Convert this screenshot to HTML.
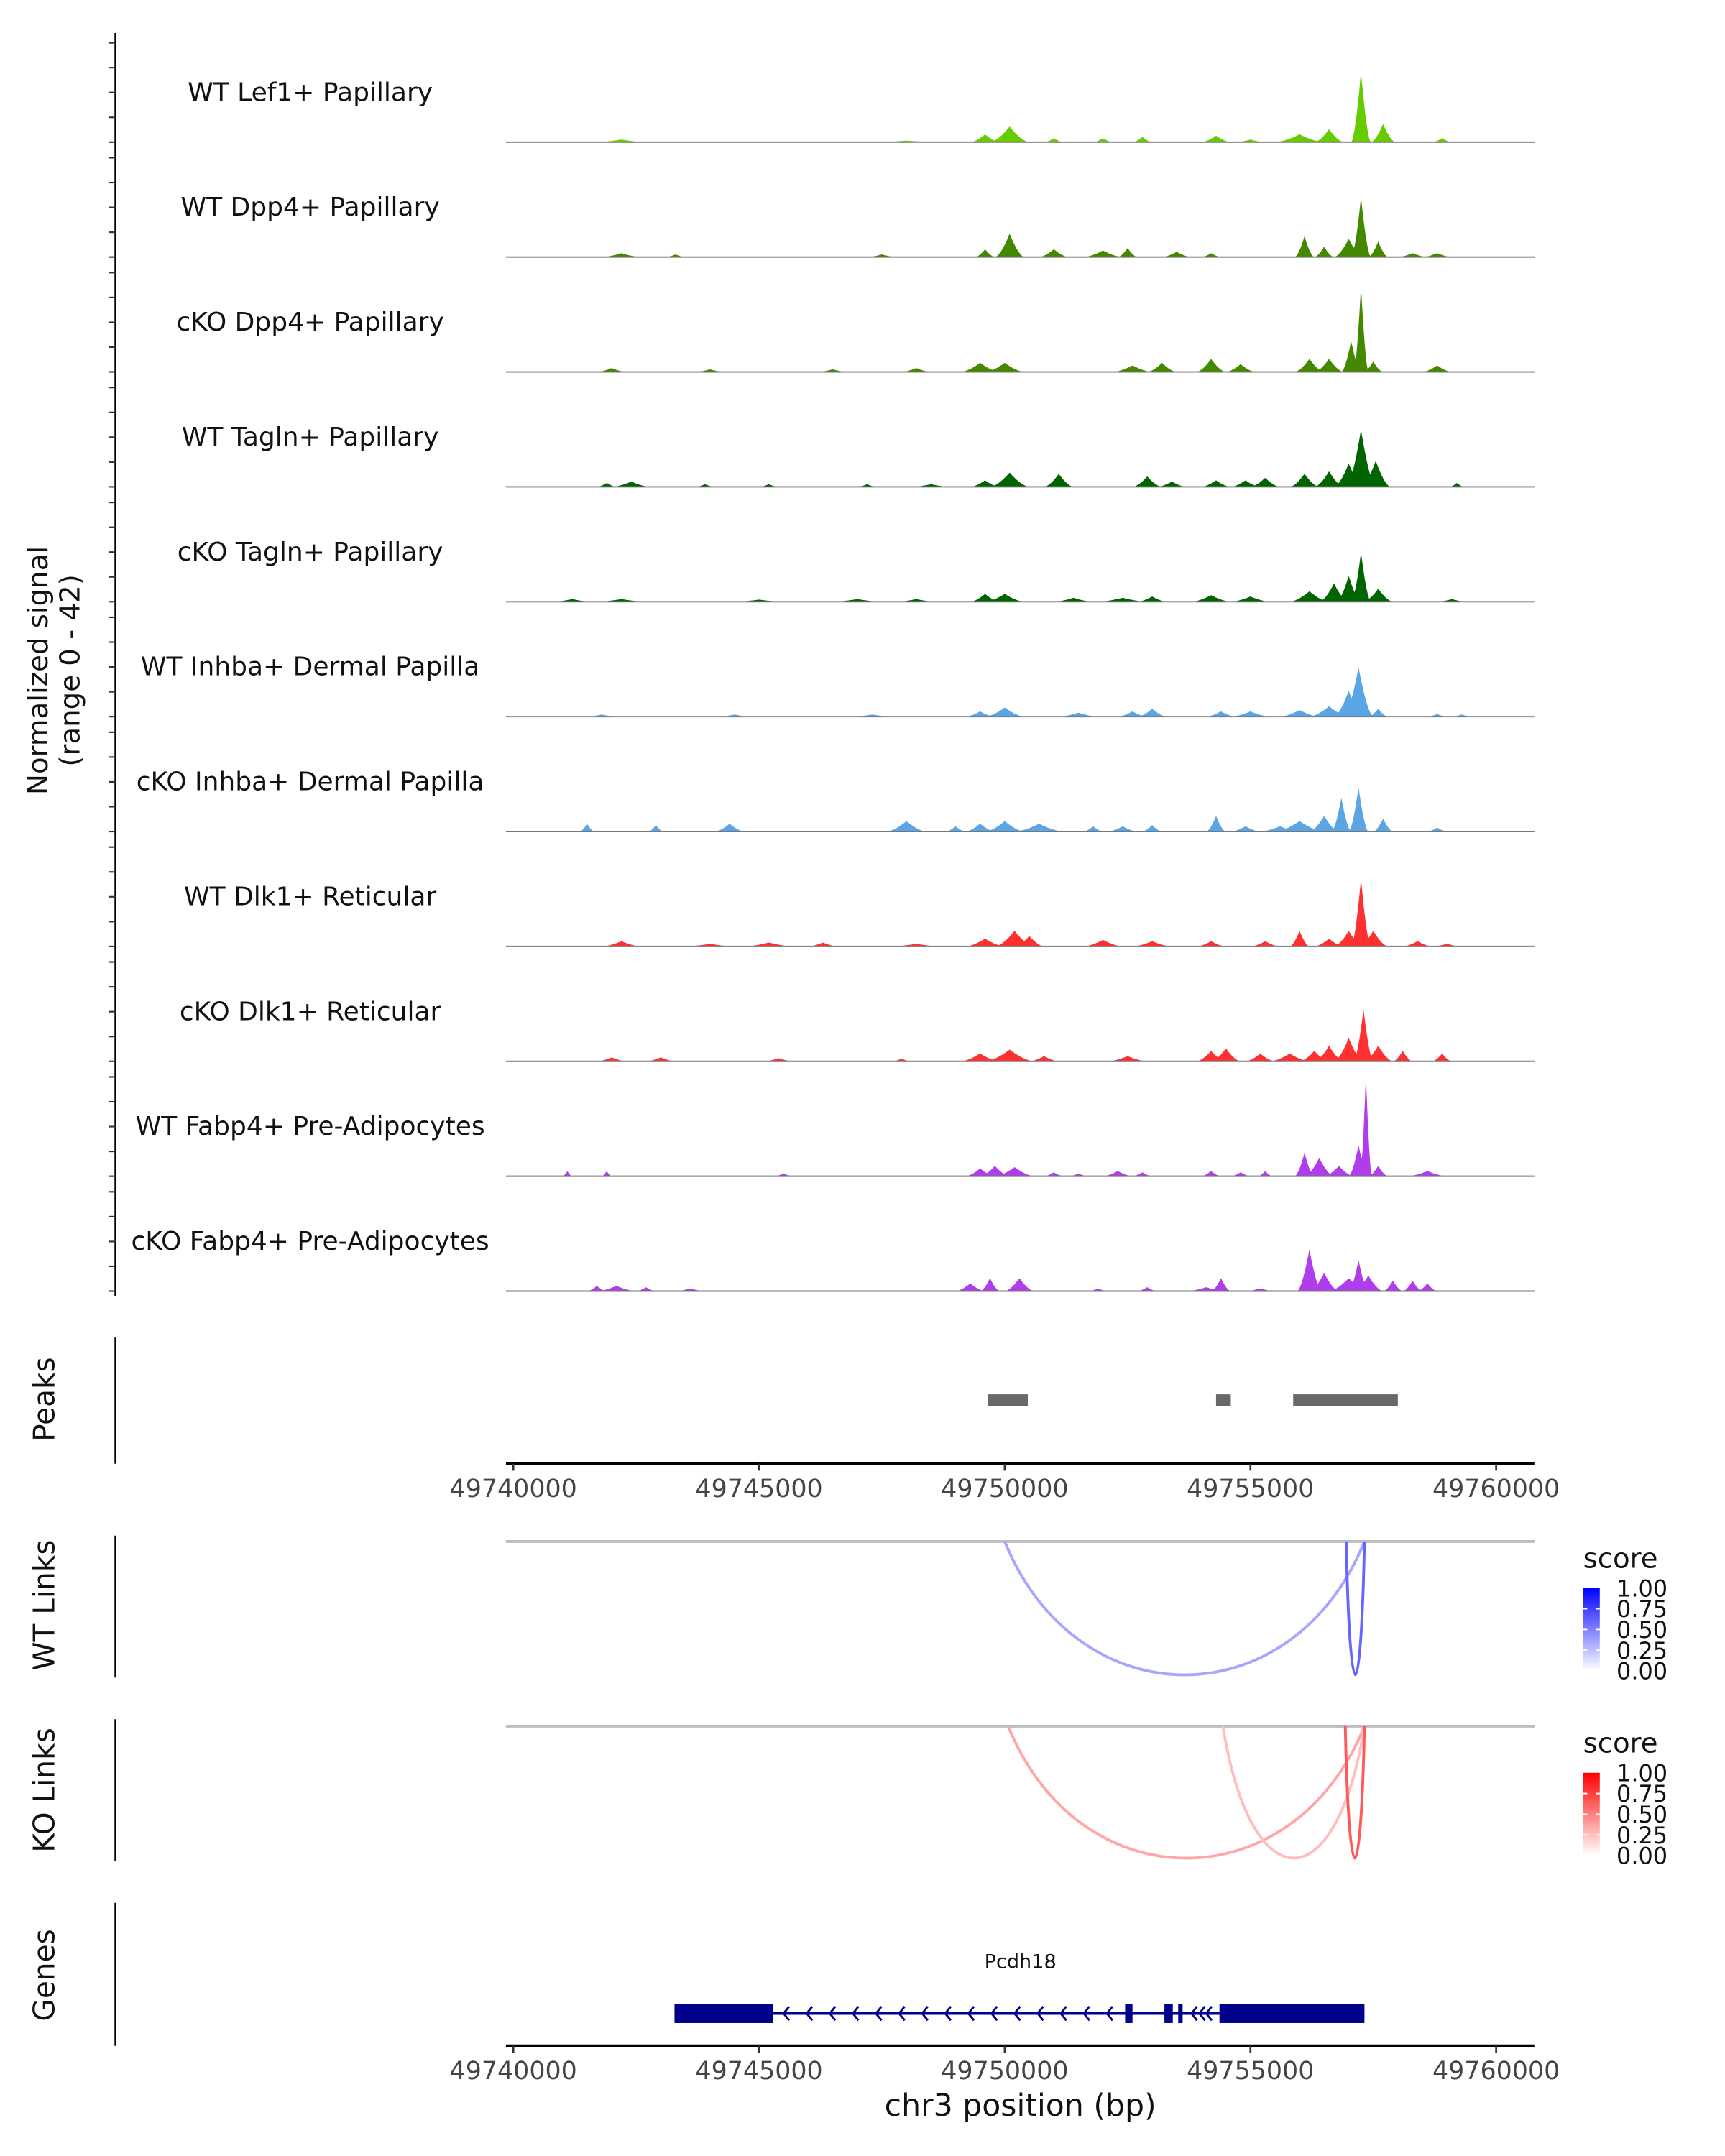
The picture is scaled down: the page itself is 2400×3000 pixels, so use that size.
<!DOCTYPE html>
<html><head><meta charset="utf-8"><style>
html,body{margin:0;padding:0;background:#fff}
svg{display:block}
text{font-family:"DejaVu Sans","Liberation Sans",sans-serif}
</style></head><body>
<svg id="chart" xmlns="http://www.w3.org/2000/svg" width="2400" height="3000" viewBox="0 0 1240 1550">
<rect width="1240" height="1550" fill="#fff"/>
<g id="tracks"></g>
<g id="peaks"></g>
<g id="links"></g>
<g id="genes"></g>
</svg>
<script>
const NS="http://www.w3.org/2000/svg";
// ---- data ----
const regionStart=49740000, regionEnd=49760000;
const xTicks=[49740000,49745000,49750000,49755000,49760000];
const trackNames=["WT Lef1+ Papillary","WT Dpp4+ Papillary","cKO Dpp4+ Papillary","WT Tagln+ Papillary","cKO Tagln+ Papillary","WT Inhba+ Dermal Papilla","cKO Inhba+ Dermal Papilla","WT Dlk1+ Reticular","cKO Dlk1+ Reticular","WT Fabp4+ Pre-Adipocytes","cKO Fabp4+ Pre-Adipocytes"];
const trackColors=["#66cc00","#448800","#448800","#006400","#006400","#5aa5e6","#5aa5e6","#ff3030","#ff3030","#b03cec","#b03cec"];
// peaks: [position kb from start, signal (0-42), width kb]
const sigLef1=[[2.2,1,0.5],[8,0.6,0.6],[9.6,3,0.3],[10.1,6,0.4],[11,1.5,0.2],[12,1.5,0.2],[12.8,2,0.2],[14.3,2.5,0.3],[15,1,0.3],[16,3,0.5],[16.6,5,0.3],[17.25,27,0.2],[17.7,7,0.25],[18.9,1.5,0.2]];
const sigDpp4WT=[[2.2,1.5,0.4],[3.3,1,0.2],[7.5,1,0.3],[9.6,3,0.2],[10.1,9,0.3],[11,3,0.3],[12.0,2.5,0.4],[12.5,3.5,0.2],[13.5,2,0.3],[14.2,1.5,0.2],[16.1,8,0.2],[16.5,4,0.2],[17.0,7,0.3],[17.25,23,0.2],[17.6,6,0.2],[18.3,1.5,0.3],[18.8,1.5,0.3]];
const sigDpp4KO=[[2.0,1.5,0.3],[4.0,1,0.3],[6.5,1,0.3],[8.2,1.5,0.3],[9.5,3.5,0.4],[10.0,3.5,0.4],[12.6,2.5,0.4],[13.2,3.5,0.3],[14.2,5,0.3],[14.8,3,0.3],[16.2,5,0.3],[16.6,5,0.3],[17.05,12,0.2],[17.25,33,0.15],[17.5,4,0.2],[18.8,2.5,0.3]];
const sigTaglnWT=[[1.9,1.5,0.2],[2.4,2,0.4],[3.9,1,0.2],[5.2,1,0.2],[7.2,1,0.2],[8.5,1,0.4],[9.6,2.5,0.3],[10.1,5.5,0.4],[11.1,5,0.3],[12.9,4,0.3],[13.4,2,0.3],[14.3,2.5,0.3],[14.9,2.5,0.3],[15.3,3.5,0.3],[16.1,5,0.3],[16.6,6,0.3],[17.0,9,0.3],[17.25,22,0.3],[17.55,10,0.3],[19.2,1.5,0.15]];
const sigTaglnKO=[[1.2,1,0.4],[2.2,1,0.5],[5.0,0.8,0.5],[7.0,1,0.5],[8.2,1,0.4],[9.6,3,0.3],[10.0,3,0.4],[11.4,1.5,0.4],[12.4,1.5,0.5],[13.0,2,0.3],[14.2,2.5,0.4],[15.0,2,0.4],[16.2,4,0.4],[16.7,7,0.3],[17.0,10,0.25],[17.25,19,0.2],[17.6,5,0.3],[19.1,1,0.3]];
const sigInhbaWT=[[1.8,0.8,0.3],[4.5,0.8,0.3],[7.3,0.8,0.4],[9.5,2,0.3],[10.0,3.5,0.4],[11.5,1.5,0.4],[12.6,2,0.3],[13.0,3,0.3],[14.4,2,0.3],[15.0,2,0.4],[16.0,2.5,0.4],[16.6,4,0.4],[17.0,10,0.3],[17.2,19,0.3],[17.6,3,0.2],[18.8,1,0.2],[19.3,0.8,0.2]];
const sigInhbaKO=[[1.5,3,0.15],[2.9,2.5,0.15],[4.4,3,0.3],[8.0,4,0.4],[9.0,2,0.2],[9.5,3,0.3],[10.0,4,0.4],[10.7,3,0.5],[11.8,2,0.2],[12.4,2,0.3],[13.0,2.5,0.2],[14.3,6,0.2],[14.9,2,0.3],[15.6,2,0.4],[16.0,4,0.5],[16.5,6,0.3],[16.85,13,0.2],[17.2,17,0.2],[17.7,5,0.2],[18.8,1.5,0.2]];
const sigDlk1WT=[[2.2,2,0.4],[4,1,0.5],[5.2,1.5,0.5],[6.3,1.5,0.3],[8.2,1,0.5],[9.6,3,0.4],[10.2,6,0.4],[10.5,4,0.3],[12.0,2.5,0.4],[13.0,2,0.4],[14.2,2,0.3],[15.3,2,0.3],[16.0,6,0.2],[16.6,3,0.3],[17.0,6,0.3],[17.25,26,0.2],[17.5,6,0.3],[18.4,2,0.3],[19.0,1,0.3]];
const sigDlk1KO=[[2.0,1.5,0.3],[3.0,1.5,0.3],[5.4,1.2,0.3],[7.9,1,0.2],[9.5,3,0.4],[10.1,4.5,0.5],[10.8,2,0.3],[12.5,2,0.4],[14.2,4,0.3],[14.5,5,0.3],[15.2,3,0.3],[15.8,3,0.4],[16.3,4,0.3],[16.6,6,0.3],[17.0,9,0.3],[17.3,20,0.2],[17.6,6,0.3],[18.1,4,0.2],[18.9,3,0.2]];
const sigFabp4WT=[[1.1,2,0.1],[1.9,2,0.1],[5.5,1,0.2],[9.5,3,0.3],[9.8,4,0.3],[10.2,3.5,0.4],[11,1.5,0.2],[11.5,1,0.2],[12.3,2,0.3],[12.8,1.5,0.2],[14.2,2,0.2],[14.8,1.5,0.2],[15.3,2,0.15],[16.1,9,0.2],[16.4,7,0.3],[16.8,4,0.3],[17.2,12,0.2],[17.35,39,0.12],[17.6,4,0.2],[18.6,2,0.4]];
const sigFabp4KO=[[1.7,2,0.2],[2.1,2,0.4],[2.7,1.5,0.2],[3.6,1,0.3],[9.3,3,0.3],[9.7,5,0.2],[10.3,5,0.3],[11.9,1,0.2],[12.9,1.5,0.2],[14.1,1.5,0.4],[14.4,5,0.2],[15.2,1,0.3],[16.2,16,0.25],[16.5,7,0.3],[17.0,5,0.4],[17.2,12,0.2],[17.4,6,0.3],[17.9,4,0.2],[18.3,4,0.2],[18.6,3,0.2]];
const trackSignals=[sigLef1,sigDpp4WT,sigDpp4KO,sigTaglnWT,sigTaglnKO,sigInhbaWT,sigInhbaKO,sigDlk1WT,sigDlk1KO,sigFabp4WT,sigFabp4KO];
const peakRegions=[[49749660,49750470],[49754300,49754600],[49755870,49758000]];
// links: [start, end, score]
const wtLinks=[[49750000,49757320,0.35],[49756950,49757320,0.6]];
const koLinks=[[49750070,49757320,0.35],[49754440,49757320,0.25],[49756930,49757320,0.65]];
const geneExonsThick=[[49743280,49745280],[49754370,49757320]];
const geneExonsSmall=[[49752450,49752600],[49753250,49753420],[49753530,49753620]];
const geneStart=49743280, geneEnd=49757320;
const legendTicks=["1.00","0.75","0.50","0.25","0.00"];

// ---- scales ----
const X0=369, X1=1075.5, PL=363.7, PR=1103;
function xs(bp){return X0+(bp-regionStart)/(regionEnd-regionStart)*(X1-X0);}
const trackBase=[102.2,184.8,267.4,350.0,432.6,515.2,597.8,680.4,763.0,845.6,928.2];
const pxPerUnit=1.88;
function el(tag,attrs,parent){const e=document.createElementNS(NS,tag);for(const k in attrs)e.setAttribute(k,attrs[k]);if(parent)parent.appendChild(e);return e;}

// ---- signal tracks ----
const gT=document.getElementById('tracks');
const yax=el('line',{x1:83,y1:23.7,x2:83,y2:931.6,stroke:'#000','stroke-width':1.4},gT);


const ylab=el('text',{x:0,y:0,transform:'translate(38,482) rotate(-90)','text-anchor':'middle','font-size':20,fill:'#111'},gT);


el('tspan',{x:0,dy:-4},ylab).textContent="Normalized signal";
el('tspan',{x:0,dy:23},ylab).textContent="(range 0 - 42)";
trackNames.forEach((name,i)=>{
  const base=trackBase[i];
  const g=el('g',{},gT);
  
  
  for(let k=0;k<5;k++){el('line',{x1:78,x2:83,y1:base-k*17.85,y2:base-k*17.85,stroke:'#333','stroke-width':1.1},g);}
  const t=el('text',{x:223,y:base-29.7,'text-anchor':'middle','font-size':18.6,fill:'#111'},g);
  
  
  t.textContent=name;
  const sig=trackSignals[i];
  let d='M'+PL+','+base;
  for(let x=PL;x<=PR;x+=0.5){
    const kb=(x-X0)/(X1-X0)*20;
    let v=0;
    sig.forEach(p=>{const dd=Math.abs(kb-p[0]);if(dd<p[2]){const f=1-dd/p[2];v=Math.max(v,p[1]*Math.pow(f,1.6));}});
    d+=' L'+x.toFixed(1)+','+(base-v*pxPerUnit).toFixed(2);
  }
  d+=' L'+PR+','+base+' Z';
  const a=el('path',{d:d,fill:trackColors[i]},g);
  
  
  el('line',{x1:PL,x2:PR,y1:base,y2:base,stroke:'#777','stroke-width':1},g);
});

// ---- x axis helper ----
function xAxis(y,parent,name){
  const g=el('g',{},parent);
  
  
  el('line',{x1:PL,x2:PR,y1:y,y2:y,stroke:'#000','stroke-width':2},g);
  xTicks.forEach(v=>{
    el('line',{x1:xs(v),x2:xs(v),y1:y,y2:y+5,stroke:'#333','stroke-width':1.4},g);
    const t=el('text',{x:xs(v),y:y+24,'text-anchor':'middle','font-size':18,fill:'#444'},g);
    
    
    t.textContent=v;
  });
}
function sideLabel(text,cy,y1,y2,parent,name){
  el('line',{x1:83,x2:83,y1:y1,y2:y2,stroke:'#000','stroke-width':1.4},parent);
  const t=el('text',{x:0,y:0,transform:'translate(39,'+cy+') rotate(-90)','text-anchor':'middle','font-size':21,fill:'#111'},parent);
  
  
  t.textContent=text;
}
// ---- peaks ----
const gP=document.getElementById('peaks');
sideLabel('Peaks',1006,961.6,1052.3,gP,'peaks-label');
peakRegions.forEach(p=>{
  const r=el('rect',{x:xs(p[0]),y:1002.4,width:xs(p[1])-xs(p[0]),height:8.6,fill:'#696969'},gP);
  
  
});
xAxis(1052.3,gP,'peaks-x-axis');

// ---- links ----
const gL=document.getElementById('links');
function linkTrack(links,top,depth,label,cy,ly1,ly2,col,legendName){
  sideLabel(label,cy,ly1,ly2,gL,legendName+'-label');
  el('line',{x1:PL,x2:PR,y1:top,y2:top,stroke:'#bdbdbd','stroke-width':2},gL);
  links.forEach(lk=>{
    const a=xs(lk[0]),b=xs(lk[1]);
    const c=lk[2];
    const color='rgb('+Math.round(255-(255-col[0])*c)+','+Math.round(255-(255-col[1])*c)+','+Math.round(255-(255-col[2])*c)+')';
    const w=b-a;
    const p=el('path',{d:'M'+a+','+top+' C'+(a+w*0.2)+','+(top+depth*1.36)+' '+(b-w*0.2)+','+(top+depth*1.36)+' '+b+','+top,fill:'none',stroke:color,'stroke-width':2},gL);
    
    
  });
  const lg=el('g',{},gL);
  
  
  const st=el('text',{x:1138,y:top+19,'font-size':20,fill:'#111'},lg);st.textContent='score';
  const gid='grad'+legendName;
  const defs=el('defs',{},lg);const gr=el('linearGradient',{id:gid,x1:0,y1:1,x2:0,y2:0},defs);
  el('stop',{offset:0,'stop-color':'#fff'},gr);el('stop',{offset:1,'stop-color':'rgb('+col.join(',')+')'},gr);
  el('rect',{x:1138,y:top+33.5,width:12,height:59.5,fill:'url(#'+gid+')'},lg);
  legendTicks.forEach((tk,k)=>{
    const y=top+33.5+k*14.9;
    if(k>0&&k<4){el('line',{x1:1138,x2:1141,y1:y,y2:y,stroke:'#fff'},lg);el('line',{x1:1147,x2:1150,y1:y,y2:y,stroke:'#fff'},lg);}
    const t=el('text',{x:1162,y:y+6,'font-size':16.5,fill:'#111'},lg);t.textContent=tk;
  });
}
linkTrack(wtLinks,1108.2,94,'WT Links',1154,1104,1206,[0,0,255],'wt-links');
linkTrack(koLinks,1241,93,'KO Links',1287,1236,1338,[255,0,0],'ko-links');

// ---- genes ----
const gG=document.getElementById('genes');
sideLabel('Genes',1420,1368,1470.8,gG,'genes-label');
const gn=el('text',{x:733.5,y:1415,'text-anchor':'middle','font-size':14,fill:'#111'},gG);


gn.textContent='Pcdh18';
const gy=1447.5;
el('line',{x1:xs(geneStart),x2:xs(geneEnd),y1:gy,y2:gy,stroke:'#00008b','stroke-width':2},gG);
for(let bp=49745500;bp<49754300;bp+=470){
  if(bp>49752300&&bp<49753700)continue;
  const x=xs(bp);
  el('path',{d:'M'+(x+4)+','+(gy-5)+' L'+x+','+gy+' L'+(x+4)+','+(gy+5),fill:'none',stroke:'#00008b','stroke-width':1.5},gG);
}
[49753800,49754100].forEach(bp=>{const x=xs(bp);el('path',{d:'M'+(x+4)+','+(gy-5)+' L'+x+','+gy+' L'+(x+4)+','+(gy+5),fill:'none',stroke:'#00008b','stroke-width':1.5},gG);});
geneExonsThick.forEach(e=>{const r=el('rect',{x:xs(e[0]),y:gy-6.9,width:xs(e[1])-xs(e[0]),height:13.8,fill:'#00008b'},gG);});
geneExonsSmall.forEach(e=>{const r=el('rect',{x:xs(e[0]),y:gy-6.9,width:Math.max(2.5,xs(e[1])-xs(e[0])),height:13.8,fill:'#00008b'},gG);});
xAxis(1470.8,gG,'genes-x-axis');
const xt=el('text',{x:733.5,y:1521,'text-anchor':'middle','font-size':22,fill:'#111'},gG);


xt.textContent='chr3 position (bp)';
</script>
</body></html>
